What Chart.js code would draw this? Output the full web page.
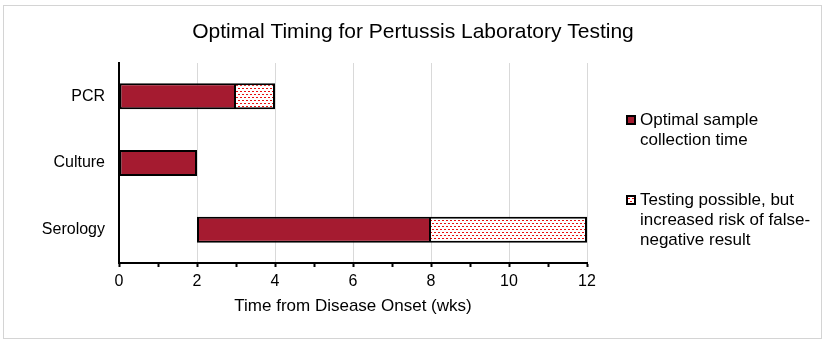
<!DOCTYPE html>
<html>
<head>
<meta charset="utf-8">
<script src="https://cdn.jsdelivr.net/npm/chart.js@4/dist/chart.umd.min.js"></script>
<style>
  body { margin: 0; background: #fff; font-family: "Liberation Sans", Arial, sans-serif; }
  #frame { position: absolute; left: 3px; top: 5px; width: 817px; height: 332px; border: 1px solid #d4d4d4; }
  #chart { position: absolute; left: 0; top: 0; }
  .legend { position: absolute; left: 626px; font-size: 17px; line-height: 19.8px; color: #000; }
  .legend .item { position: absolute; white-space: nowrap; padding-left: 14px; }
  .legend .box { position: absolute; left: 0; top: 5px; width: 6px; height: 6px; border: 2px solid #000; }
</style>
</head>
<body>
<div id="frame"></div>
<canvas id="chart" width="826" height="342"></canvas>
<div class="legend" id="legend"></div>
<script>
/* --------------------------------------------
   Data
-------------------------------------------- */
const chartTitle = "Optimal Timing for Pertussis Laboratory Testing";
const axisTitle = "Time from Disease Onset (wks)";
const tests = ["PCR", "Culture", "Serology"];
const optimalWeeks = [[0, 3], [0, 2], [2, 8]];
const possibleWeeks = [[3, 4], null, [8, 12]];
const seriesNames = [
  ["Optimal sample", "collection time"],
  ["Testing possible, but", "increased risk of false-", "negative result"],
];
const weekMax = 12;

const FONT = '"Liberation Sans", Arial, sans-serif';

/* --------------------------------------------
   Dotted fill for the "possible" range
-------------------------------------------- */
const makeDots = () => {
  const tile = document.createElement("canvas");
  tile.width = 4;
  tile.height = 6;
  const c = tile.getContext("2d");
  c.fillStyle = "#fff";
  c.fillRect(0, 0, 4, 6);
  c.fillStyle = "#e81010";
  c.fillRect(0, 1, 2, 1);
  c.fillRect(2, 4, 2, 1);
  return tile;
};

const dotTile = makeDots();
const dotPattern = document.getElementById("chart").getContext("2d").createPattern(dotTile, "repeat");
const optimalColor = "#a51b30";

/* --------------------------------------------
   Legend
-------------------------------------------- */
const renderLegend = () => {
  const el = document.getElementById("legend");
  const fills = [optimalColor, `#fff url(${dotTile.toDataURL()})`];
  const tops = [110, 190];
  seriesNames.forEach((lines, i) => {
    const item = document.createElement("div");
    item.className = "item";
    item.style.top = tops[i] + "px";
    item.innerHTML = `<span class="box" style="background:${fills[i]}"></span>${lines.join("<br>")}`;
    el.appendChild(item);
  });
};

/* --------------------------------------------
   Title centred on the whole canvas
-------------------------------------------- */
const centredTitle = {
  id: "centredTitle",
  afterDraw(chart) {
    const { ctx, width } = chart;
    ctx.save();
    ctx.font = `21px ${FONT}`;
    ctx.fillStyle = "#000";
    ctx.textAlign = "center";
    ctx.textBaseline = "middle";
    ctx.fillText(chartTitle, width / 2, 32);
    ctx.restore();
  },
};

/* --------------------------------------------
   Chart
-------------------------------------------- */
new Chart(document.getElementById("chart"), {
  type: "bar",
  data: {
    labels: tests,
    datasets: [
      {
        label: seriesNames[0].join(" "),
        data: optimalWeeks,
        backgroundColor: optimalColor,
        borderColor: "#000",
        borderWidth: 2,
        borderSkipped: false,
        grouped: false,
        categoryPercentage: 1,
        barPercentage: 0.39,
      },
      {
        label: seriesNames[1].join(" "),
        data: possibleWeeks,
        backgroundColor: dotPattern,
        borderColor: "#000",
        borderWidth: { top: 2, right: 2, bottom: 2, left: 0 },
        borderSkipped: false,
        grouped: false,
        categoryPercentage: 1,
        barPercentage: 0.39,
      },
    ],
  },
  plugins: [centredTitle],
  options: {
    indexAxis: "y",
    responsive: false,
    animation: false,
    devicePixelRatio: 1,
    layout: { padding: { left: 0, right: 239, top: 63, bottom: 19 } },
    plugins: {
      legend: { display: false },
      tooltip: { enabled: false },
      title: { display: false },
    },
    scales: {
      x: {
        type: "linear",
        min: 0,
        max: weekMax,
        afterFit: (scale) => { scale.height = 60; },
        ticks: {
          stepSize: 1,
          autoSkip: false,
          maxRotation: 0,
          padding: 5,
          color: "#000",
          font: { family: FONT, size: 16 },
          callback: (v) => (v % 2 === 0 ? v : ""),
        },
        grid: {
          color: (ctx) => (ctx.tick && ctx.tick.value % 2 === 0 ? "#d9d9d9" : "rgba(0,0,0,0)"),
          lineWidth: 1,
          tickColor: "#000",
          tickWidth: 2,
          tickLength: 4,
        },
        border: { display: true, color: "#000", width: 2 },
        title: {
          display: true,
          text: axisTitle,
          color: "#000",
          font: { family: FONT, size: 17 },
          padding: { top: 0, bottom: 6 },
        },
      },
      y: {
        type: "category",
        afterFit: (scale) => { scale.width = 119; },
        ticks: {
          padding: 14,
          color: "#000",
          font: { family: FONT, size: 16 },
        },
        grid: { display: false, drawTicks: false },
        border: { display: true, color: "#000", width: 2 },
      },
    },
  },
});

renderLegend();
</script>
</body>
</html>
